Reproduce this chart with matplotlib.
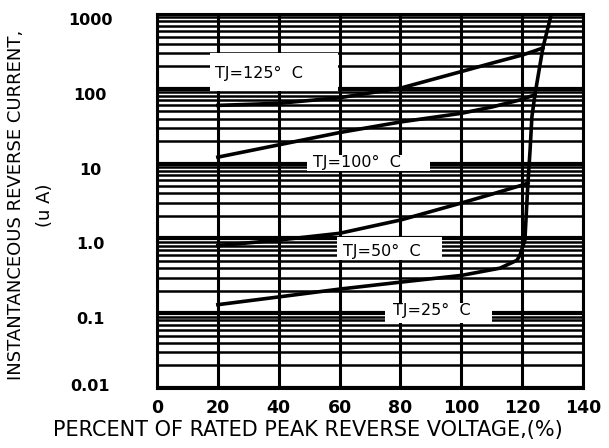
import matplotlib
matplotlib.use("Agg")
import matplotlib.pyplot as plt
from matplotlib.ticker import LogLocator, NullFormatter
from matplotlib.patches import Rectangle
from matplotlib.transforms import ScaledTranslation

# curves (percent of rated voltage, current in uA)
x_25 = [20, 40, 60, 80, 100, 112.7, 118.3, 119.3, 120.9, 121.9, 122.6, 123.2, 124.2, 126.8, 129.6]
y_25 = [0.13, 0.165, 0.21, 0.26, 0.32, 0.40, 0.51, 0.6, 0.95, 5.5, 15, 42, 83, 351, 1000]

x_50 = [20, 40, 60, 80, 100, 110, 120.3, 121.9]
y_50 = [0.8, 0.95, 1.17, 1.76, 2.97, 3.9, 5.2, 5.5]

x_100 = [20, 40, 60, 80, 100, 110, 119.3, 124.2]
y_100 = [12.2, 17.8, 26, 36, 47, 57, 71, 83]

x_125 = [20, 40, 60, 80, 100, 110, 120.3, 124, 126.8]
y_125 = [60, 64, 76, 102, 170, 220, 285, 320, 351]

curve_labels = ["TJ=25°  C", "TJ=50°  C", "TJ=100°  C", "TJ=125°  C"]
# text position and white box (x0, x1, y0, y1) for each label
label_pos = [(77.6, 0.110), (61.1, 0.66), (51.3, 10.2), (19.1, 158)]
label_box = [(74.9, 110.1, 0.074, 0.137), (59.2, 93.7, 0.514, 1.04),
             (49.3, 89.7, 7.96, 13.0), (17.4, 59.5, 93, 301)]

y_ticks = [0.01, 0.1, 1, 10, 100, 1000]
y_tick_labels = ["0.01", "0.1", "1.0", "10", "100", "1000"]
x_ticks = [0, 20, 40, 60, 80, 100, 120, 140]

W, H = 609, 448
fig = plt.figure(figsize=(W / 100, H / 100), dpi=100)
ax = fig.add_axes([157 / W, 1 - 388 / H, 426 / W, 374 / H])

ax.set_yscale("log")
ax.set_xlim(0, 140)
ax.set_ylim(0.01, 1000)

ax.yaxis.set_minor_locator(LogLocator(base=10, subs=range(2, 10)))
ax.yaxis.set_minor_formatter(NullFormatter())
ax.grid(which="major", axis="y", color="black", lw=3)
ax.grid(which="minor", axis="y", color="black", lw=1.8)
ax.grid(which="major", axis="x", color="black", lw=2.2)
ax.set_axisbelow(True)

for s in ax.spines.values():
    s.set_linewidth(2.2)

ax.set_xticks(x_ticks)
ax.set_xticklabels([str(t) for t in x_ticks], fontsize=12.5, fontweight="bold")
ax.set_yticks(y_ticks)
ax.set_yticklabels(y_tick_labels, fontsize=11.5, fontweight="bold", ha="center")
ax.tick_params(axis="both", which="both", length=0)
ax.tick_params(axis="y", pad=48)
ax.tick_params(axis="x", pad=8)
# labels sit a little below their grid line in the reference (bottom one above)
for i, lbl in enumerate(ax.get_yticklabels()):
    dy = 3 if i == 0 else -5
    lbl.set_transform(lbl.get_transform() + ScaledTranslation(0, dy / 100, fig.dpi_scale_trans))

for (x0, x1, y0, y1) in label_box:
    ax.add_patch(Rectangle((x0, y0), x1 - x0, y1 - y0, facecolor="white",
                           edgecolor="none", zorder=2))
for txt, (tx, ty) in zip(curve_labels, label_pos):
    ax.text(tx, ty, txt, fontsize=11.5, va="center", ha="left", zorder=3)

for xs, ys in [(x_25, y_25), (x_50, y_50), (x_100, y_100), (x_125, y_125)]:
    ax.plot(xs, ys, color="black", lw=2.6, zorder=4, clip_on=True)

fig.text(308 / W, 1 - 430 / H, "PERCENT OF RATED PEAK REVERSE VOLTAGE,(%)",
         fontsize=15, ha="center", va="center")
fig.text(16 / W, 1 - 205 / H, "INSTANTANCEOUS REVERSE CURRENT,",
         fontsize=13, rotation=90, ha="center", va="center")
fig.text(45 / W, 1 - 205 / H, "(u A)",
         fontsize=13, rotation=90, ha="center", va="center")

fig.savefig("out.png", dpi=100)
